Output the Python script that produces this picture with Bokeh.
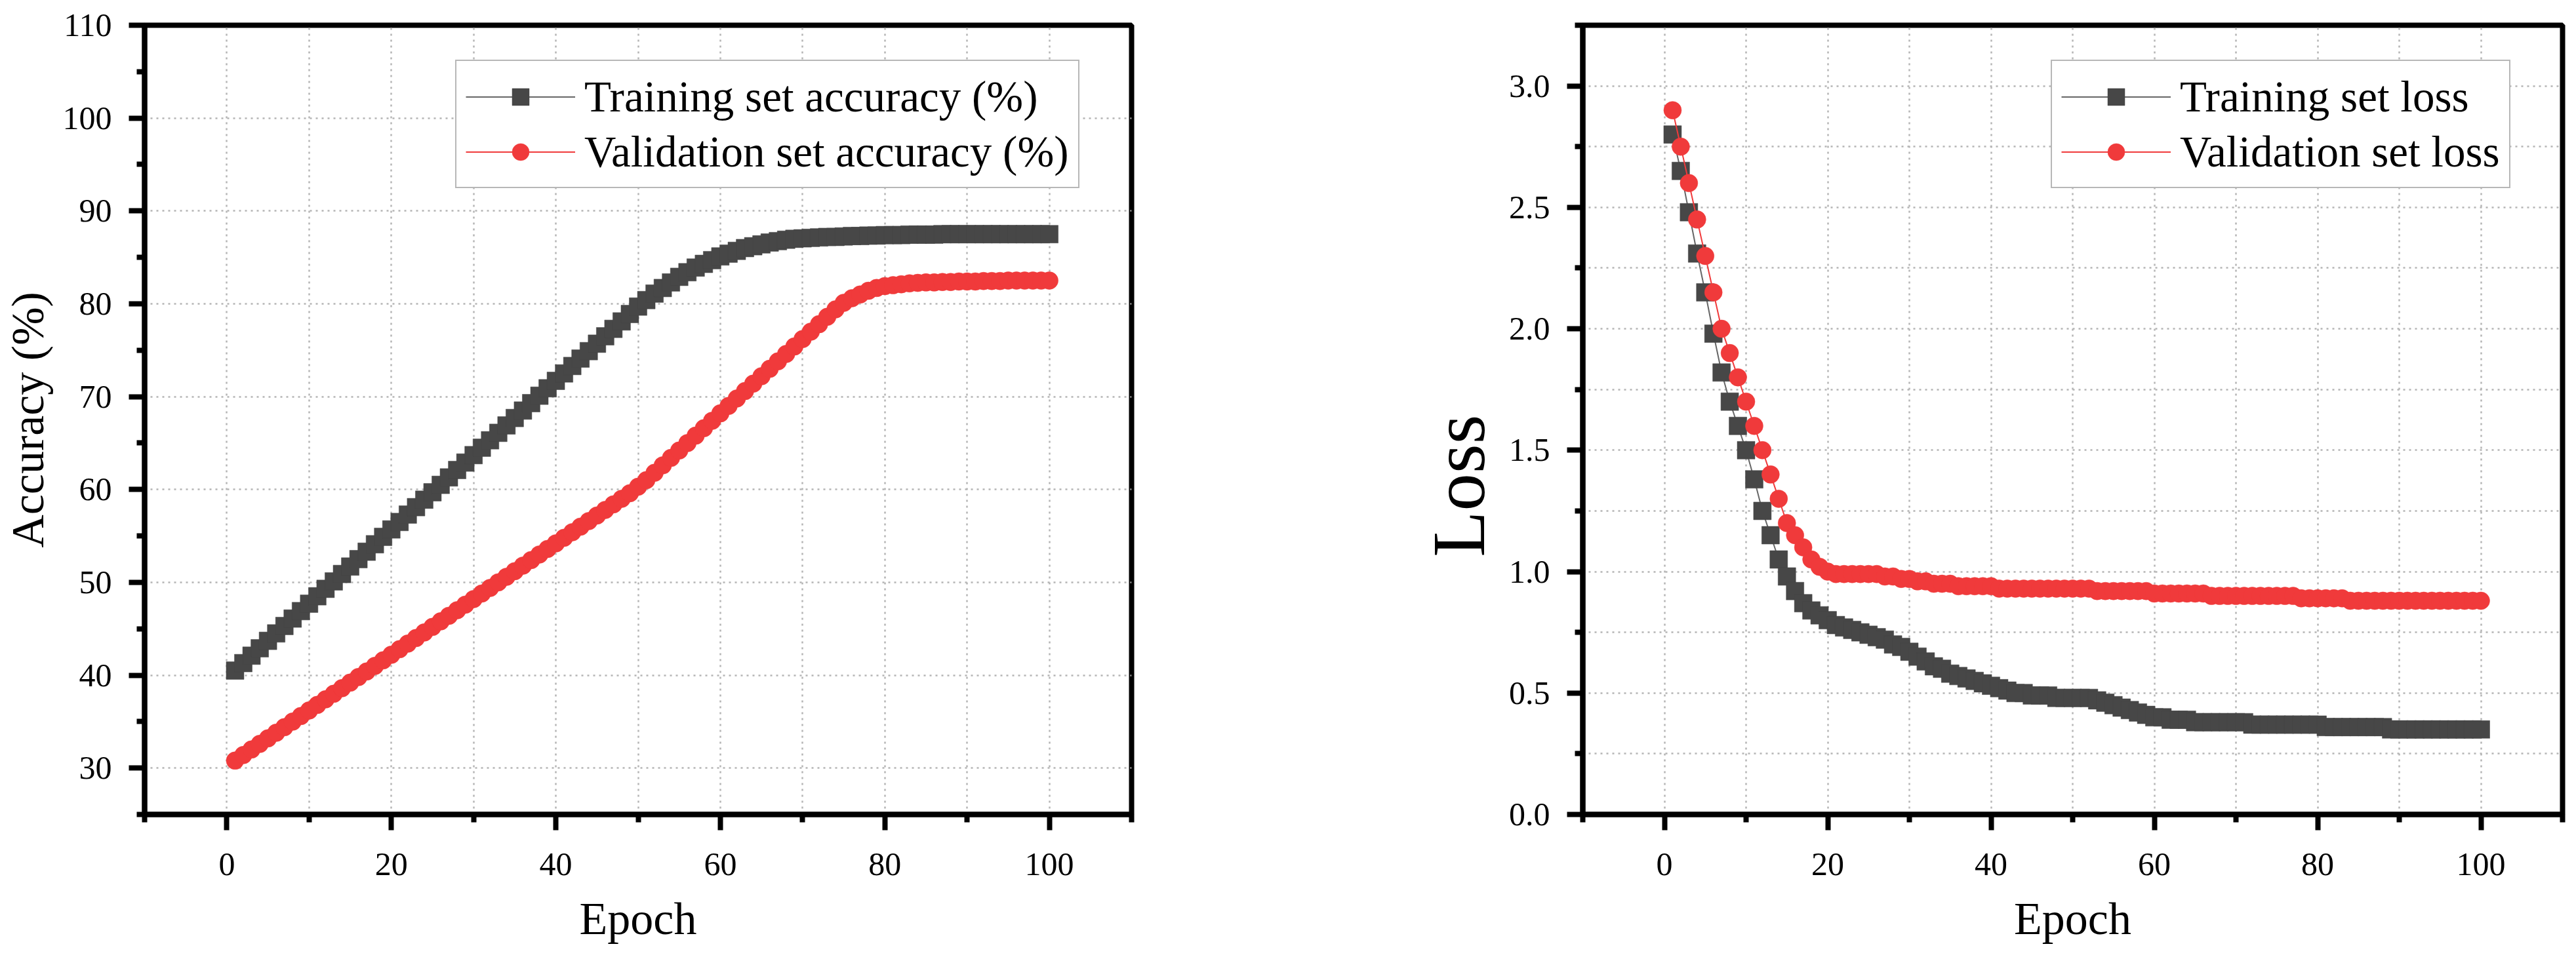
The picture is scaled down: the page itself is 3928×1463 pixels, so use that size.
from bokeh.plotting import figure
from bokeh.layouts import row
from bokeh.models import FixedTicker, Legend, LegendItem, PrintfTickFormatter
from bokeh.embed import file_html
from bokeh.resources import INLINE

# ---------------- data ----------------
epochs = list(range(1, 101))

train_acc = [
    40.5, 41.3, 42.1, 42.9, 43.7, 44.5, 45.3, 46.1, 46.9, 47.7,
    48.5, 49.3, 50.1, 50.9, 51.7, 52.5, 53.3, 54.1, 54.9, 55.7,
    56.5, 57.3, 58.1, 58.9, 59.7, 60.5, 61.3, 62.1, 62.9, 63.7,
    64.5, 65.3, 66.1, 66.9, 67.7, 68.5, 69.3, 70.1, 70.9, 71.7,
    72.5, 73.3, 74.1, 74.9, 75.7, 76.5, 77.3, 78.1, 78.9, 79.7,
    80.4, 81.1, 81.7, 82.3, 82.9, 83.4, 83.9, 84.3, 84.7, 85.1,
    85.4, 85.7, 86.0, 86.2, 86.4, 86.6, 86.75, 86.9, 87.0, 87.05,
    87.1, 87.15, 87.2, 87.2, 87.25, 87.3, 87.3, 87.35, 87.35, 87.4,
    87.4, 87.4, 87.45, 87.45, 87.45, 87.45, 87.5, 87.5, 87.5, 87.5,
    87.5, 87.5, 87.5, 87.5, 87.5, 87.5, 87.5, 87.5, 87.5, 87.5,
]

val_acc = [
    30.8, 31.4, 32.0, 32.6, 33.2, 33.8, 34.4, 35.0, 35.6, 36.2,
    36.8, 37.4, 38.0, 38.6, 39.2, 39.8, 40.4, 41.0, 41.6, 42.2,
    42.8, 43.4, 44.0, 44.6, 45.2, 45.8, 46.4, 47.0, 47.6, 48.2,
    48.8, 49.4, 50.0, 50.6, 51.2, 51.8, 52.4, 53.0, 53.6, 54.2,
    54.8, 55.4, 56.0, 56.6, 57.2, 57.8, 58.4, 59.0, 59.6, 60.3,
    61.0, 61.8, 62.6, 63.4, 64.2, 65.0, 65.8, 66.6, 67.4, 68.2,
    69.0, 69.8, 70.6, 71.4, 72.2, 73.0, 73.8, 74.6, 75.4, 76.2,
    77.0, 77.8, 78.6, 79.4, 80.1, 80.6, 81.0, 81.4, 81.7, 81.9,
    82.0, 82.1, 82.2, 82.25, 82.3, 82.3, 82.35, 82.35, 82.4, 82.4,
    82.4, 82.45, 82.45, 82.45, 82.5, 82.5, 82.5, 82.5, 82.5, 82.5,
]

train_loss = [
    2.80, 2.65, 2.48, 2.31, 2.15, 1.98, 1.82, 1.70, 1.60, 1.50,
    1.38, 1.25, 1.15, 1.05, 0.98, 0.92, 0.87, 0.84, 0.82, 0.80,
    0.78, 0.77, 0.76, 0.75, 0.74, 0.73, 0.72, 0.70, 0.69, 0.67,
    0.65, 0.63, 0.61, 0.60, 0.58, 0.57, 0.56, 0.55, 0.54, 0.53,
    0.52, 0.51, 0.50, 0.50, 0.49, 0.49, 0.49, 0.48, 0.48, 0.48,
    0.48, 0.48, 0.47, 0.46, 0.45, 0.44, 0.43, 0.42, 0.41, 0.40,
    0.40, 0.39, 0.39, 0.39, 0.38, 0.38, 0.38, 0.38, 0.38, 0.38,
    0.38, 0.37, 0.37, 0.37, 0.37, 0.37, 0.37, 0.37, 0.37, 0.37,
    0.36, 0.36, 0.36, 0.36, 0.36, 0.36, 0.36, 0.36, 0.35, 0.35,
    0.35, 0.35, 0.35, 0.35, 0.35, 0.35, 0.35, 0.35, 0.35, 0.35,
]

val_loss = [
    2.90, 2.75, 2.60, 2.45, 2.30, 2.15, 2.00, 1.90, 1.80, 1.70,
    1.60, 1.50, 1.40, 1.30, 1.20, 1.15, 1.10, 1.05, 1.02, 1.00,
    0.99, 0.99, 0.99, 0.99, 0.99, 0.99, 0.98, 0.98, 0.97, 0.97,
    0.96, 0.96, 0.95, 0.95, 0.95, 0.94, 0.94, 0.94, 0.94, 0.94,
    0.93, 0.93, 0.93, 0.93, 0.93, 0.93, 0.93, 0.93, 0.93, 0.93,
    0.93, 0.93, 0.92, 0.92, 0.92, 0.92, 0.92, 0.92, 0.92, 0.91,
    0.91, 0.91, 0.91, 0.91, 0.91, 0.91, 0.90, 0.90, 0.90, 0.90,
    0.90, 0.90, 0.90, 0.90, 0.90, 0.90, 0.90, 0.89, 0.89, 0.89,
    0.89, 0.89, 0.89, 0.88, 0.88, 0.88, 0.88, 0.88, 0.88, 0.88,
    0.88, 0.88, 0.88, 0.88, 0.88, 0.88, 0.88, 0.88, 0.88, 0.88,
]

acc_labels = ["Training set accuracy (%)", "Validation set accuracy (%)"]
loss_labels = ["Training set loss", "Validation set loss"]

# ---------------- style ----------------
FONT = "Liberation Serif"
DARK = "#474747"
RED = "#F03A3B"
GRID = "#b5b5b5"
NBSP = "\u00a0"


def make_fig(frame_w, x_range, y_range, left, right, ylabel, ylabel_size, ylabel_standoff,
             y_major, y_minor, y_grid, fmt=None):
    p = figure(frame_width=frame_w, frame_height=1204, x_range=x_range, y_range=y_range,
               output_backend="svg", toolbar_location=None,
               min_border=0, min_border_left=left, min_border_right=right,
               min_border_top=38, min_border_bottom=205)
    p.background_fill_color = "white"
    p.border_fill_color = "white"
    p.outline_line_color = "black"
    p.outline_line_width = 8

    for ax in (p.xaxis[0], p.yaxis[0]):
        ax.axis_line_width = 8
        ax.axis_line_color = "black"
        ax.major_tick_line_width = 8
        ax.minor_tick_line_width = 8
        ax.major_tick_in = 0
        ax.minor_tick_in = 0
        ax.major_tick_out = 24
        ax.minor_tick_out = 12
        ax.major_label_text_font = FONT
        ax.major_label_text_font_size = "50px"
        ax.major_label_text_color = "black"
        ax.axis_label_text_font = FONT
        ax.axis_label_text_font_style = "normal"
        ax.axis_label_text_color = "black"

    xa = p.xaxis[0]
    xa.ticker = FixedTicker(ticks=[0, 20, 40, 60, 80, 100],
                            minor_ticks=[-10, 10, 30, 50, 70, 90, 110])
    xa.axis_label = "Epoch"
    xa.axis_label_text_font_size = "70px"
    xa.major_label_standoff = 35
    xa.axis_label_standoff = 25

    ya = p.yaxis[0]
    ya.ticker = FixedTicker(ticks=y_major, minor_ticks=y_minor)
    ya.axis_label = ylabel
    ya.axis_label_text_font_size = ylabel_size
    ya.axis_label_standoff = ylabel_standoff
    ya.major_label_standoff = 26
    if fmt is not None:
        ya.formatter = fmt

    p.xgrid.ticker = FixedTicker(ticks=[0, 10, 20, 30, 40, 50, 60, 70, 80, 90, 100])
    p.ygrid.ticker = FixedTicker(ticks=y_grid)
    for g in (p.xgrid[0], p.ygrid[0]):
        g.grid_line_color = GRID
        g.grid_line_width = 2.5
        g.grid_line_dash = "3 6"
    return p


def add_series(p, ys_train, ys_val, labels, legend_x):
    l1 = p.line(epochs, ys_train, line_color="#666666", line_width=2)
    s1 = p.scatter(epochs, ys_train, marker="square", size=27,
                   fill_color=DARK, line_color=DARK, line_width=0.5)
    l2 = p.line(epochs, ys_val, line_color=RED, line_width=2)
    s2 = p.scatter(epochs, ys_val, marker="circle", size=27,
                   fill_color=RED, line_color=RED, line_width=0.5)
    legend = Legend(items=[LegendItem(label=labels[0], renderers=[l1, s1]),
                           LegendItem(label=labels[1], renderers=[l2, s2])],
                    location=(legend_x, 955))
    legend.label_text_font = FONT
    legend.label_text_font_size = "67px"
    legend.label_text_color = "black"
    legend.glyph_width = 167
    legend.glyph_height = 65
    legend.label_height = 80
    legend.label_standoff = 14
    legend.spacing = 4
    legend.padding = 14
    legend.margin = 0
    legend.border_line_color = "#707070"
    legend.border_line_width = 2
    legend.background_fill_color = "white"
    legend.background_fill_alpha = 1.0
    p.add_layout(legend)


p1 = make_fig(1505, (-10, 110), (25, 110), 213, 234, "Accuracy (%)", "70px", 12,
              [30, 40, 50, 60, 70, 80, 90, 100, 110],
              [25, 35, 45, 55, 65, 75, 85, 95, 105],
              [30, 40, 50, 60, 70, 80, 90, 100])
add_series(p1, train_acc, val_acc, acc_labels, 474)

# the "Loss" title sits a little below the panel centre in the original;
# trailing no-break spaces shift the centred title down
p2 = make_fig(1494, (-10, 110), (0, 3.25), 454, 12, "Loss" + NBSP * 7, "115px", 10,
              [0.0, 0.5, 1.0, 1.5, 2.0, 2.5, 3.0],
              [0.25, 0.75, 1.25, 1.75, 2.25, 2.75, 3.25],
              [0.25, 0.5, 0.75, 1.0, 1.25, 1.5, 1.75, 2.0, 2.25, 2.5, 2.75, 3.0],
              fmt=PrintfTickFormatter(format="%.1f"))
add_series(p2, train_loss, val_loss, loss_labels, 714)

layout = row(p1, p2, spacing=0)

with open("out.html", "w") as f:
    f.write(file_html(layout, INLINE))
